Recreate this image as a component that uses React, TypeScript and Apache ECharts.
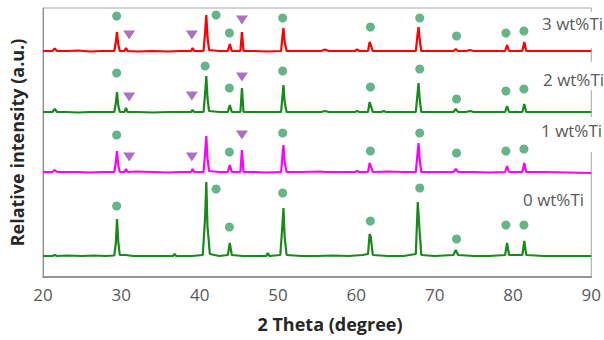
import React, { useEffect, useRef } from "react";
import * as echarts from "echarts";

// tick labels of the 2θ axis
const xTicks = [20, 30, 40, 50, 60, 70, 80, 90];

// trace names (top to bottom) and their vertical offsets (a.u.)
const traceNames = ["3 wt%Ti", "2 wt%Ti", "1 wt%Ti", "0 wt%Ti"];
const traceColors = ["#ff0000", "#178a17", "#ff00ff", "#178a17"];
const traceOffsets = [225, 164, 104, 20];

// [2θ, intensity] profiles
const ti3: number[][] = [
  [20, 1], [21.2, 1], [21.5, 3.5], [21.8, 1], [23, 1], [24.5, 1.5], [26, 0.5], [27.5, 1], [29.1, 1],
  [29.3, 10], [29.45, 20], [29.6, 8], [29.8, 1], [30.4, 1], [30.6, 4], [30.8, 1], [32, 0.5], [34, 1],
  [36, 0.5], [37.5, 1], [38.9, 1], [39.1, 4], [39.3, 1], [40.5, 1], [40.7, 20], [40.85, 37], [41.0, 15],
  [41.2, 2], [42.5, 1], [43.6, 1], [43.85, 8], [44.1, 1], [45.2, 1], [45.4, 20], [45.6, 1], [47, 1],
  [48.5, 0.5], [50.4, 1], [50.55, 14], [50.7, 24], [50.85, 10], [51.1, 1], [53, 1], [55.5, 1], [56, 2.5],
  [56.5, 1], [58, 1], [59.8, 1], [60.1, 2.5], [60.4, 1], [61.5, 1], [61.7, 10], [61.9, 6], [62.1, 1],
  [64, 1], [66, 1], [67.6, 1], [67.8, 16], [67.95, 25], [68.1, 12], [68.3, 1], [70, 1], [72.4, 1],
  [72.7, 3], [73.0, 1], [74, 1], [74.5, 2], [75, 1], [77, 1], [79.0, 1], [79.25, 7], [79.5, 1],
  [81.2, 1], [81.45, 10], [81.7, 1], [84, 1], [87, 1], [90, 1],
];
const ti2: number[][] = [
  [20, 1], [21.2, 1], [21.5, 4], [21.8, 1], [23, 1], [24.5, 0.5], [26, 1], [27.5, 1], [29.1, 1],
  [29.3, 10], [29.45, 21], [29.6, 8], [29.8, 1], [30.4, 1], [30.6, 5], [30.8, 1], [32, 1], [34, 0.5],
  [36, 1], [37.5, 1], [38.9, 1], [39.1, 3], [39.3, 1], [40.5, 1], [40.7, 20], [40.85, 37], [41.0, 15],
  [41.2, 2], [42.5, 1], [43.6, 1], [43.85, 8], [44.1, 1], [45.2, 1], [45.4, 25], [45.6, 1], [47, 1],
  [48.5, 1], [50.4, 1], [50.55, 15], [50.7, 28], [50.85, 11], [51.1, 1], [53, 1], [55.5, 1], [56, 2],
  [56.5, 1], [58, 1], [59.8, 1], [60.1, 2], [60.4, 1], [61.5, 1], [61.7, 11], [61.9, 6], [62.1, 1],
  [63.2, 1], [63.5, 2], [63.8, 1], [66, 1], [67.6, 1], [67.8, 18], [67.95, 30], [68.1, 13], [68.3, 1],
  [70, 1], [72.4, 1], [72.7, 4], [73.0, 1], [74, 1], [74.5, 2], [75, 1], [77, 1], [79.0, 1],
  [79.25, 7], [79.5, 1], [81.2, 1], [81.45, 9], [81.7, 1], [84, 1], [87, 1], [90, 1],
];
const ti1: number[][] = [
  [20, 1], [21.2, 1], [21.5, 3], [21.8, 1], [23, 1], [24.5, 1], [26, 0.5], [27.5, 1], [29.1, 1],
  [29.3, 11], [29.45, 22], [29.6, 8], [29.8, 1], [30.4, 1], [30.6, 4], [30.8, 1], [32, 1.5], [34, 1],
  [36, 0.5], [37.5, 1], [38.9, 1], [39.1, 4], [39.3, 1], [40.5, 1], [40.7, 20], [40.85, 37], [41.0, 15],
  [41.2, 2], [42.5, 1], [43.6, 1], [43.85, 8], [44.1, 1], [45.2, 1], [45.4, 23], [45.6, 1], [47, 1],
  [48.5, 0.5], [50.4, 1], [50.55, 15], [50.7, 28], [50.85, 11], [51.1, 1], [53, 1], [55.5, 1.5], [56, 1],
  [58, 1], [59.8, 1], [60.1, 2], [60.4, 1], [61.5, 1], [61.7, 10], [61.9, 6], [62.1, 1], [64, 1.5],
  [66, 1], [67.6, 1], [67.8, 18], [67.95, 30], [68.1, 13], [68.3, 1], [70, 1], [72.4, 1], [72.7, 4],
  [73.0, 1], [75, 1], [77, 0.5], [79.0, 1], [79.25, 7], [79.5, 1], [81.2, 1], [81.45, 10], [81.7, 1],
  [84, 1], [87, 0.5], [90, 0],
];
const ti0: number[][] = [
  [20, 1], [21.2, 1], [21.5, 2], [21.8, 1], [23, 1.5], [25, 1], [26.5, 1.5], [28, 1], [29.1, 1.5],
  [29.3, 14], [29.45, 38], [29.6, 16], [29.8, 2], [30.6, 2], [31.5, 1], [33, 1], [35, 1], [36.6, 1],
  [36.8, 3], [37, 1], [39, 1], [40.4, 2], [40.7, 40], [40.85, 75], [41.0, 30], [41.1, 22], [41.3, 3],
  [42.5, 1], [43.6, 2], [43.85, 14], [44.1, 2], [45.5, 1], [46, 1], [48.5, 1], [48.7, 4], [48.9, 1],
  [50.3, 2], [50.55, 30], [50.7, 49], [50.85, 20], [51.1, 2], [53, 1], [55, 1], [57, 1.5], [59, 1],
  [60.8, 2], [61.5, 3], [61.7, 23], [61.85, 20], [62.1, 2], [64, 1], [66, 1], [67.6, 3], [67.85, 55],
  [68.05, 30], [68.3, 2], [70, 1], [72.4, 2], [72.7, 7], [73.0, 2], [75, 1], [77, 1], [79.0, 2],
  [79.25, 14], [79.5, 2], [81.2, 2], [81.45, 16], [81.7, 2], [84, 1], [87, 1], [90, 1],
];
const traces = [ti3, ti2, ti1, ti0];

// phase markers: [2θ, height on the chart]
const circleMarks: number[][] = [
  // 3 wt%Ti
  [29.4, 261], [42.1, 262], [43.8, 244], [50.6, 259], [61.8, 250], [68.1, 259], [72.8, 241], [79.1, 244], [81.4, 246],
  // 2 wt%Ti
  [29.4, 204], [40.7, 211], [43.8, 189], [50.6, 206], [61.8, 190], [68.1, 208], [72.8, 178], [79.1, 186], [81.4, 188],
  // 1 wt%Ti
  [29.4, 142], [43.8, 125], [50.6, 144], [61.8, 126], [68.1, 144], [72.8, 124], [79.1, 126], [81.4, 128],
  // 0 wt%Ti
  [29.4, 71], [42.1, 88], [43.8, 50], [50.6, 84], [61.8, 56], [68.1, 89], [72.8, 38], [79.1, 52], [81.4, 52],
];
const triangleMarks: number[][] = [
  [31.0, 242], [39.0, 242], [45.4, 257],
  [31.0, 180], [39.0, 181], [45.4, 200],
  [31.0, 120], [39.0, 120], [45.4, 142],
];

const FONT = "'Open Sans', sans-serif";

export default function App() {
  const ref = useRef<HTMLDivElement>(null);
  useEffect(() => {
    if (!ref.current) return;
    const chart = echarts.init(ref.current, null, { renderer: "svg" });
    const lineSeries = traces.map((t, i) => ({
      type: "line",
      name: traceNames[i],
      data: t.map(([x, y]) => [x, y + traceOffsets[i]]),
      symbol: "none",
      lineStyle: { color: traceColors[i], width: 2.2 },
      z: 2,
    }));
    chart.setOption({
      animation: false,
      grid: {
        left: 40, right: 10, top: 8, bottom: 63,
        show: true, borderColor: "#a6a6a6", borderWidth: 1,
      },
      xAxis: {
        type: "value", min: xTicks[0], max: xTicks[xTicks.length - 1], interval: 10,
        axisLine: { show: true, lineStyle: { color: "#7f7f7f", width: 1.5 } },
        axisTick: { show: false },
        splitLine: { show: false },
        axisLabel: { color: "#595959", fontSize: 17, fontFamily: FONT, margin: 9 },
      },
      yAxis: {
        type: "value", min: 0, max: 269,
        name: "Relative intensity (a.u.)",
        nameLocation: "middle", nameGap: 17, nameRotate: 90,
        nameTextStyle: { color: "#262626", fontSize: 18, fontWeight: "bold", fontFamily: FONT },
        axisLine: { show: true, lineStyle: { color: "#8c8c8c", width: 1 } },
        axisTick: { show: false },
        axisLabel: { show: false },
        splitLine: { show: false },
      },
      series: [
        ...lineSeries,
        {
          type: "scatter", data: circleMarks, symbol: "circle", symbolSize: 9,
          itemStyle: { color: "#3fa36c" }, z: 3,
        },
        {
          type: "scatter", data: triangleMarks, symbol: "triangle", symbolSize: [12, 9],
          symbolRotate: 180, itemStyle: { color: "#9a4cb3" }, z: 3,
        },
      ],
      graphic: [
        { type: "rect", shape: { x: 589, y: 12, width: 15, height: 36 }, style: { fill: "#fff" }, z: 100 },
        { type: "rect", shape: { x: 589, y: 62, width: 15, height: 28 }, style: { fill: "#fff" }, z: 100 },
        { type: "rect", shape: { x: 589, y: 117, width: 15, height: 35 }, style: { fill: "#fff" }, z: 100 },
        { type: "text", x: 542, y: 23, z: 101, style: { text: traceNames[0], fill: "#595959", font: `17px ${FONT}`, textVerticalAlign: "middle" } },
        { type: "text", x: 543, y: 79, z: 101, style: { text: traceNames[1], fill: "#595959", font: `17px ${FONT}`, textVerticalAlign: "middle" } },
        { type: "text", x: 541, y: 130, z: 101, style: { text: traceNames[2], fill: "#595959", font: `17px ${FONT}`, textVerticalAlign: "middle" } },
        { type: "text", x: 523, y: 199, z: 101, style: { text: traceNames[3], fill: "#595959", font: `17px ${FONT}`, textVerticalAlign: "middle" } },
        { type: "text", x: 330, y: 324, z: 101, style: { text: "2 Theta (degree)", fill: "#262626", font: `bold 18px ${FONT}`, textAlign: "center", textVerticalAlign: "middle" } },
      ],
    });
    return () => chart.dispose();
  }, []);
  return <div ref={ref} style={{ position: "absolute", left: 0, top: 0, width: 604, height: 340 }} />;
}
